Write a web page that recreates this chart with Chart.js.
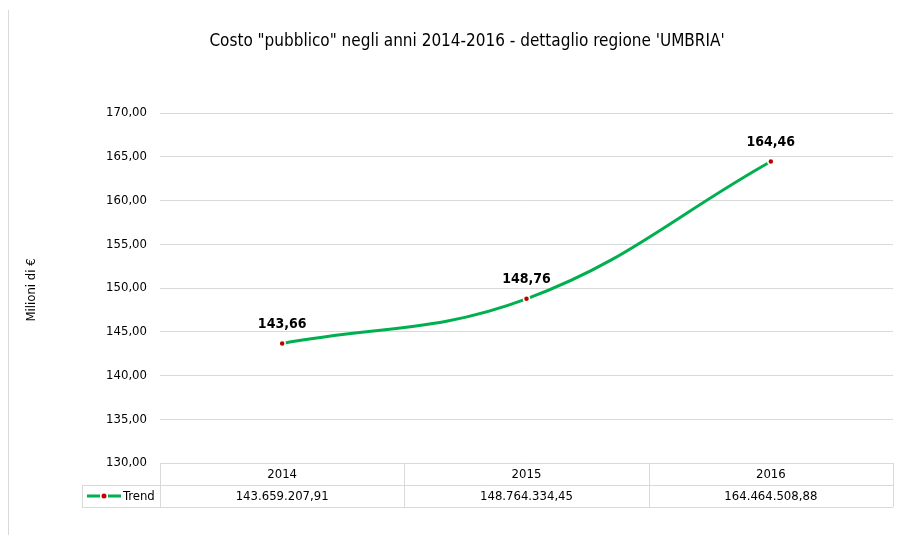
<!DOCTYPE html>
<html>
<head>
<meta charset="utf-8">
<script src="https://cdn.jsdelivr.net/npm/chart.js@4.4.0/dist/chart.umd.min.js"></script>
<style>
  html, body { margin: 0; padding: 0; background: #fff; }
  #wrap { width: 906px; height: 535px; }
</style>
</head>
<body>
<div id="wrap"><canvas id="grafico" width="906" height="535"></canvas></div>
<script>
// dati del grafico
const anni = ['2014', '2015', '2016'];
const costoMilioni = [143.66, 148.76, 164.46];
const costoEuro = ['143.659.207,91', '148.764.334,45', '164.464.508,88'];
const nomeSerie = 'Trend';
const titolo = 'Costo "pubblico" negli anni 2014-2016 - dettaglio regione \'UMBRIA\'';
const titoloAsseY = 'Milioni di €';

const FONT = "'Liberation Sans Narrow', 'DejaVu Sans Condensed', 'Roboto', sans-serif";
const VERDE = '#00b050';
const ROSSO = '#c00000';
const BORDO = '#d9d9d9';

function formattaNumero(v) {
    return v.toFixed(2).replace('.', ',');
}

// disegna titolo, etichette dati e tabella dati sotto il grafico
const pluginTabella = {
    id: 'tabellaDati',
    afterDraw(chart) {
        const ctx = chart.ctx;
        const area = chart.chartArea;
        const x = chart.scales.x;
        const meta = chart.getDatasetMeta(0);
        ctx.save();

        // bordo sinistro del riquadro
        ctx.strokeStyle = BORDO;
        ctx.lineWidth = 1;
        ctx.beginPath();
        ctx.moveTo(8.5, 10);
        ctx.lineTo(8.5, 535);
        ctx.stroke();

        // titolo
        ctx.fillStyle = '#000';
        ctx.font = '17px ' + FONT;
        ctx.textAlign = 'center';
        ctx.textBaseline = 'middle';
        ctx.fillText(titolo, 467, 42);

        // titolo asse y
        ctx.save();
        ctx.translate(32, 290);
        ctx.rotate(-Math.PI / 2);
        ctx.font = '13px ' + FONT;
        ctx.fillText(titoloAsseY, 0, 0);
        ctx.restore();

        // etichette dati
        ctx.font = 'bold 14px ' + FONT;
        meta.data.forEach((p, i) => {
            ctx.fillText(formattaNumero(costoMilioni[i]), p.x, p.y - 19);
        });

        // tabella
        const rigaH = 22;
        const top = area.bottom;
        const mid = top + rigaH;
        const bottom = mid + rigaH;
        const legLeft = 82;
        const passo = (area.right - area.left) / anni.length;

        ctx.strokeStyle = BORDO;
        ctx.beginPath();
        // linee orizzontali
        ctx.moveTo(area.left, top + 0.5); ctx.lineTo(area.right, top + 0.5);
        ctx.moveTo(legLeft, mid + 0.5); ctx.lineTo(area.right, mid + 0.5);
        ctx.moveTo(legLeft, bottom + 0.5); ctx.lineTo(area.right, bottom + 0.5);
        // linee verticali
        ctx.moveTo(legLeft + 0.5, mid); ctx.lineTo(legLeft + 0.5, bottom);
        for (let i = 0; i <= anni.length; i++) {
            const xx = Math.round(area.left + passo * i) + 0.5;
            ctx.moveTo(xx, top); ctx.lineTo(xx, bottom);
        }
        ctx.stroke();

        ctx.fillStyle = '#000';
        ctx.font = '13px ' + FONT;
        anni.forEach((a, i) => {
            const cx = x.getPixelForValue(i);
            ctx.fillText(a, cx, top + rigaH / 2 + 1);
            ctx.fillText(costoEuro[i], cx, mid + rigaH / 2 + 1);
        });

        // chiave legenda
        const ly = mid + rigaH / 2;
        ctx.strokeStyle = VERDE;
        ctx.lineWidth = 3;
        ctx.beginPath();
        ctx.moveTo(87, ly); ctx.lineTo(100, ly);
        ctx.moveTo(108, ly); ctx.lineTo(121, ly);
        ctx.stroke();
        ctx.fillStyle = ROSSO;
        ctx.beginPath();
        ctx.arc(104, ly, 2.5, 0, Math.PI * 2);
        ctx.fill();
        ctx.fillStyle = '#000';
        ctx.textAlign = 'left';
        ctx.fillText(nomeSerie, 123, ly + 1);

        ctx.restore();
    }
};

const grafico = new Chart(document.getElementById('grafico'), {
    type: 'line',
    data: {
        labels: anni,
        datasets: [{
            label: nomeSerie,
            data: costoMilioni,
            borderColor: VERDE,
            borderWidth: 3,
            tension: 0.4,
            fill: false,
            pointRadius: 3,
            pointBackgroundColor: ROSSO,
            pointBorderColor: '#fff',
            pointBorderWidth: 1.5
        }]
    },
    options: {
        responsive: false,
        animation: false,
        layout: { padding: { left: 0, top: 113, right: 13, bottom: 72 } },
        plugins: {
            legend: { display: false },
            title: { display: false },
            tooltip: { enabled: false }
        },
        scales: {
            x: {
                display: false,
                offset: true
            },
            y: {
                min: 130,
                max: 170,
                afterFit(scale) { scale.width = 160; },
                border: { display: false },
                grid: { color: BORDO, drawTicks: false },
                ticks: {
                    stepSize: 5,
                    padding: 13,
                    color: '#000',
                    font: { family: FONT, size: 13 },
                    callback: v => formattaNumero(v)
                }
            }
        }
    },
    plugins: [pluginTabella]
});
</script>
</body>
</html>
